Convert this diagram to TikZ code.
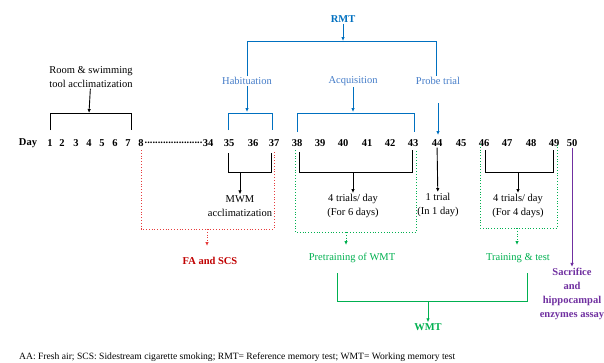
\documentclass[tikz,border=0pt]{standalone}
\usepackage{fontspec}
\setmainfont{Liberation Serif}
\usetikzlibrary{arrows.meta,positioning}

\definecolor{rmtblue}{RGB}{0,112,192}
\definecolor{labelblue}{RGB}{68,124,200}
\definecolor{scsred}{RGB}{192,0,0}
\definecolor{dotred}{RGB}{230,60,60}
\definecolor{wmtgreen}{RGB}{0,176,80}
\definecolor{assaypurple}{RGB}{112,48,160}

\begin{document}
\begin{tikzpicture}[
        %one unit is one pixel of the reference, y runs downwards
        x=1pt, y=-1pt,
        every node/.style={inner sep=1pt, font=\fontsize{10.5}{14}\selectfont},
        day/.style={font=\fontsize{10.5}{14}\selectfont\bfseries},
        bracket/.style={line width=0.9pt},
        tip/.style={-{Latex[length=4pt,width=3.5pt]}},
        blue line/.style={bracket, draw=rmtblue},
        blue tip/.style={blue line, tip},
        black tip/.style={bracket, tip},
        red dots/.style={dotted, thick, draw=dotred},
        green dots/.style={dotted, thick, draw=wmtgreen},
        green line/.style={bracket, draw=wmtgreen},
        note/.style={align=center}
]
\useasboundingbox (0,0) rectangle (604,362);

% the time line
\node[day] (day) at (28,143) {Day};
\foreach \x/\d in {50/1,62/2,76/3,89/4,102/5,115/6,128/7,141/8,
                   208/34,229/35,253/36,274/37,297/38,320/39,343/40,367/41,
                   390/42,413/43,437/44,461/45,484/46,507/47,531/48,554/49,572/50}
    \node[day] (d\d) at (\x,143) {\d};
\node[day] (gap) at (173.5,143) {......................};

% RMT and its three phases
\node[day, text=rmtblue] (rmt) at (343,19) {RMT};
\node[text=labelblue] (hab) at (247,81) {Habituation};
\node[text=labelblue] (acq) at (353,81) {Acquisition};
\node[text=labelblue] (probe) at (438,81) {Probe trial};
\draw[blue tip] (rmt) -- (rmt |- 0,41);
\draw[blue line] (hab.north) |- (436,41) -- (probe.north -| 436,0);
\draw[blue tip] (hab) -- (247,112);
\draw[blue line] (228,130) -- (228,113) -- (272,113) -- (272,130);
\draw[blue tip] (acq) -- (353,112);
\draw[blue line] (297,132) -- (297,113) -- (414,113) -- (414,132);
\draw[blue tip] (probe) ++(0,22) -- (438,135);

% acclimatization
\node[note] (room) at (91,77) {Room \& swimming\\tool acclimatization};
\draw[black tip] (room) -- (89,113);
\draw[bracket] (50,130) -- (50,113) -- (131,113) -- (131,130);

% below the time line
\draw[bracket] (228,153) -- (228,172) -- (271,172) -- (271,153);
\node[note] (mwm) at (240,206) {MWM\\acclimatization};
\draw[black tip] (240,172) -- (mwm);

\draw[bracket] (299,152) -- (299,172) -- (412,172) -- (412,150);
\node[note] (six) at (353,206) {4 trials/ day\\(For 6 days)};
\draw[black tip] (353,172) -- (six);

\node[note] (one) at (438,205) {1 trial\\(In 1 day)};
\draw[black tip] (d44) -- (one);

\draw[bracket] (485,150) -- (485,172) -- (553,172) -- (553,150);
\node[note] (four) at (518,206) {4 trials/ day\\(For 4 days)};
\draw[black tip] (518,172) -- (four);

% exposure
\draw[red dots] (141,150) -- (141,229) -- (274,229) -- (274,150);
\node[day, text=scsred] (scs) at (210,261) {FA and SCS};
\draw[red dots, -{Latex[length=4pt,width=3.5pt]}] (207,229) -- (207,246);

% WMT
\draw[green dots] (295,150) -- (295,232) -- (416,232) -- (416,150);
\node[text=wmtgreen] (pre) at (352,258) {Pretraining of WMT};
\draw[green dots, -{Latex[length=4pt,width=3.5pt]}] (346,232) -- (346,245);
\draw[green dots] (480,144) -- (480,228) -- (557,228) -- (557,144);
\node[text=wmtgreen] (train) at (518,258) {Training \& test};
\draw[green dots, -{Latex[length=4pt,width=3.5pt]}] (517,228) -- (517,245);
\node[day, text=wmtgreen] (wmt) at (428,327) {WMT};
\draw[green line] (337,273) -- (337,301) -- (527,301) -- (527,273);
\draw[green line, tip] (428,301) -- (wmt);

% end of the study
\node[day, align=center, text=assaypurple] (assay) at (572,294)
    {Sacrifice\\and\\hippocampal\\enzymes assay};
\draw[bracket, draw=assaypurple, tip] (d50) -- (assay);

\node[anchor=west, font=\fontsize{9.6}{11}\selectfont] (legend) at (18,357)
    {AA: Fresh air; SCS: Sidestream cigarette smoking; RMT= Reference memory test; WMT= Working memory test};
\end{tikzpicture}
\end{document}
